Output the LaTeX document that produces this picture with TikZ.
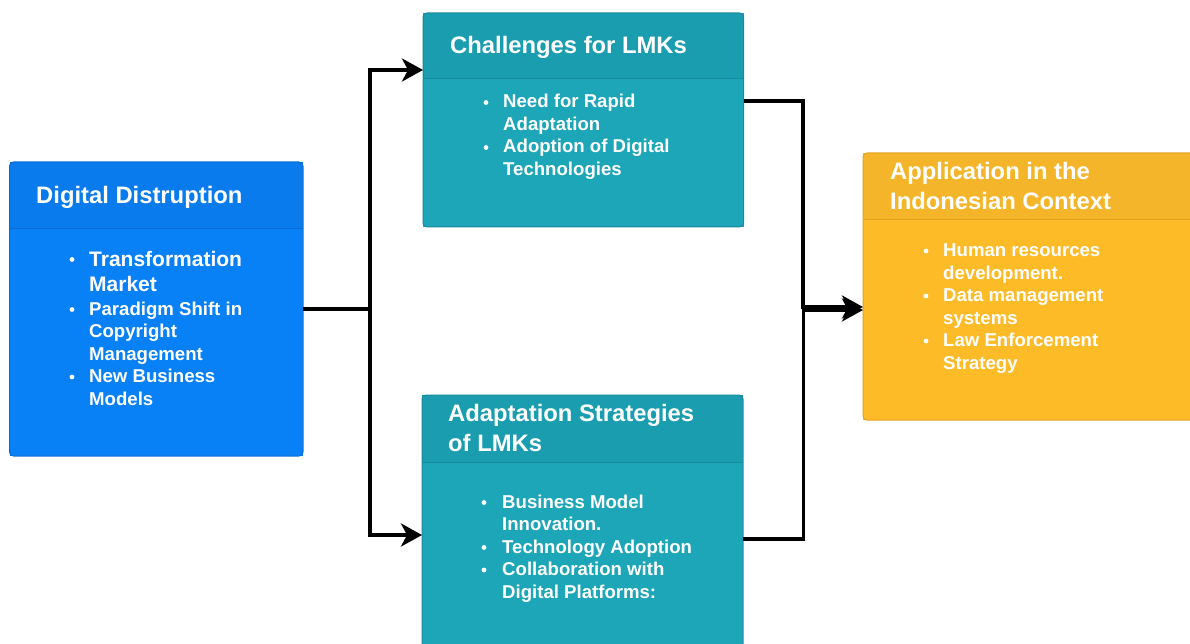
\documentclass[tikz,border=0pt]{standalone}
\usepackage{fontspec}
\setmainfont{Liberation Sans}
\usetikzlibrary{arrows.meta}

\definecolor{bluebody}{RGB}{9,129,246}
\definecolor{bluehead}{RGB}{10,123,236}
\definecolor{blueedge}{RGB}{8,108,210}
\definecolor{tealbody}{RGB}{29,165,184}
\definecolor{tealhead}{RGB}{27,157,176}
\definecolor{tealedge}{RGB}{22,138,155}
\definecolor{yellbody}{RGB}{253,187,40}
\definecolor{yellhead}{RGB}{245,181,42}
\definecolor{yelledge}{RGB}{225,162,32}

\newcounter{txtno}

% panel: name, left, top, right, bottom, header divider y, colour prefix
\newcommand{\panel}[7]{%
  \node[panelbox, fill=#7body, minimum width={#4-#2}, minimum height={#5-#3}]
    (#1) at ({(#2+#4)/2},{(#3+#5)/2}) {};
  \begin{scope}
    \clip[rounded corners=4] (#1.south west) rectangle (#1.north east);
    \fill[#7head] (#1.north west) rectangle (#1.east |- 0,#6);
  \end{scope}
  \draw[#7edge, line width=1] (#1.west |- 0,#6) -- (#1.east |- 0,#6);
  \draw[#7edge, line width=1, rounded corners=4] (#1.south west) rectangle (#1.north east);
}
% heading line and list line, anchored on their baseline
\newcommand{\heading}[3]{\stepcounter{txtno}\node[headtext] (txt\arabic{txtno}) at (#1,#2) {#3};}
\newcommand{\entry}[4][itemfont]{\stepcounter{txtno}\node[itemtext, #1] (txt\arabic{txtno}) at (#2,#3) {#4};}
\newcommand{\dotmark}[2]{\fill[white] (#1,#2) circle (2.4);}

\begin{document}
\begin{tikzpicture}[x=1pt, y=-1pt,
  panelbox/.style={rectangle, inner sep=0, outer sep=0, draw=none},
  headtext/.style={anchor=base west, inner sep=0, text=white,
    font=\fontsize{23.8}{28}\selectfont\bfseries},
  itemfont/.style={font=\fontsize{18.6}{22}\selectfont\bfseries},
  bigitem/.style={font=\fontsize{21}{25}\selectfont\bfseries},
  itemtext/.style={anchor=base west, inner sep=0, text=white},
  link/.style={line width=3.5, black},
  linkarrow/.style={link, -{Stealth[length=21pt 0 0, width=23pt 0 0, inset=6pt 0]}}
]
\useasboundingbox (0,0) rectangle (1190,644);
\clip (0,0) rectangle (1190,644);

% boxes
\panel{dig}{9.5}{162}{303}{456}{229}{blue}
\panel{chal}{423}{13}{743.5}{227}{79}{teal}
\panel{adap}{422}{395}{743}{680}{462}{teal}
\panel{appl}{863}{153}{1220}{420}{220}{yell}

% Digital Distruption
\heading{36}{204}{Digital Distruption}
\dotmark{72}{259.5}
\entry[bigitem]{89}{266}{Transformation}
\entry[bigitem]{89}{291}{Market}
\dotmark{72}{309.5}
\entry{89}{315}{Paradigm Shift in}
\entry{89}{337.5}{Copyright}
\entry{89}{360}{Management}
\dotmark{72}{377}
\entry{89}{382.5}{New Business}
\entry{89}{405}{Models}

% Challenges for LMKs
\heading{450}{53.5}{Challenges for LMKs}
\dotmark{486}{102.5}
\entry{503}{108}{Need for Rapid}
\entry{503}{130.5}{Adaptation}
\dotmark{486}{147.5}
\entry{503}{153}{Adoption of Digital}
\entry{503}{175.5}{Technologies}

% Adaptation Strategies of LMKs
\heading{448}{421.5}{Adaptation Strategies}
\heading{448}{451}{of LMKs}
\dotmark{484}{502.5}
\entry{502}{508}{Business Model}
\entry{502}{530.5}{Innovation.}
\dotmark{484}{547.5}
\entry{502}{553}{Technology Adoption}
\dotmark{484}{570}
\entry{502}{575.5}{Collaboration with}
\entry{502}{598}{Digital Platforms:}

% Application in the Indonesian Context
\heading{890}{179.5}{Application in the}
\heading{890}{209.5}{Indonesian Context}
\dotmark{926}{251}
\entry{943}{256.5}{Human resources}
\entry{943}{279}{development.}
\dotmark{926}{296}
\entry{943}{301.5}{Data management}
\entry{943}{324}{systems}
\dotmark{926}{341}
\entry{943}{346.5}{Law Enforcement}
\entry{943}{369}{Strategy}

% connectors
\draw[linkarrow] (dig.east) -- (370,309) |- (chal.west |- 0,70);
\draw[linkarrow] (dig.east) -- (370,309) |- (adap.west |- 0,535);
\draw[linkarrow] (chal.east |- 0,101) -- (803,101) |- (appl.west |- 0,307);
\draw[linkarrow] (adap.east |- 0,539) -- (803.5,539) |- (appl.west |- 0,310);
\end{tikzpicture}
\end{document}
